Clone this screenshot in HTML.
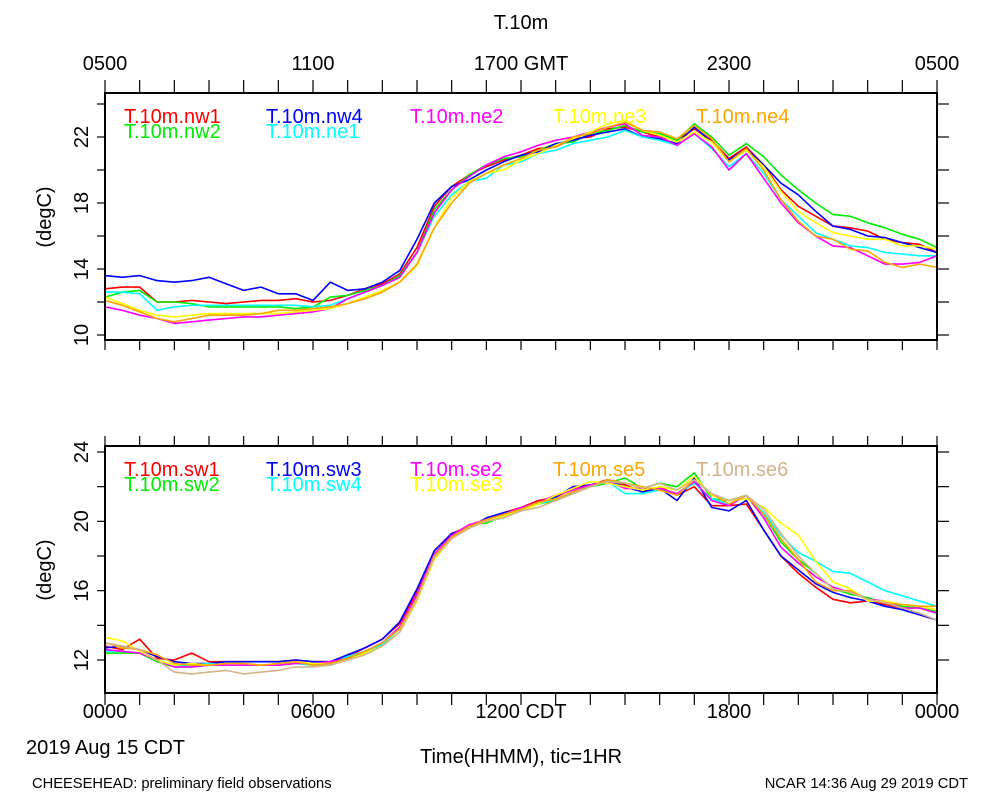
<!DOCTYPE html>
<html><head><meta charset="utf-8"><style>
body{margin:0;background:#fff;}
svg{display:block;font-family:"Liberation Sans",sans-serif;}
</style></head><body>
<svg id="chart" width="1000" height="800" viewBox="0 0 1000 800" xmlns="http://www.w3.org/2000/svg">
<text x="521" y="29" font-size="20" text-anchor="middle">T.10m</text>
<g font-size="20" text-anchor="middle">
<text x="105" y="70">0500</text><text x="313" y="70">1100</text><text x="521" y="70">1700 GMT</text><text x="729" y="70">2300</text><text x="937" y="70">0500</text>
</g>
<g font-size="20" text-anchor="middle">
<text x="105" y="718">0000</text><text x="313" y="718">0600</text><text x="521" y="718">1200 CDT</text><text x="729" y="718">1800</text><text x="937" y="718">0000</text>
</g>
<text x="26" y="754" font-size="20">2019 Aug 15 CDT</text>
<text x="521" y="763" font-size="20" text-anchor="middle">Time(HHMM), tic=1HR</text>
<text x="32" y="788" font-size="14.7">CHEESEHEAD: preliminary field observations</text>
<text x="968" y="788" font-size="14.7" text-anchor="end">NCAR 14:36 Aug 29 2019 CDT</text>
<text x="0" y="0" font-size="20" text-anchor="middle" transform="translate(51,217) rotate(-90)">(degC)</text>
<text x="0" y="0" font-size="20" text-anchor="middle" transform="translate(51,570) rotate(-90)">(degC)</text>
</svg>
<script>
const hours = [];
for (let i = 0; i <= 48; i++) hours.push(i * 0.5);
const topNames = ["T.10m.nw1","T.10m.nw2","T.10m.nw4","T.10m.ne1","T.10m.ne2","T.10m.ne3","T.10m.ne4"];
const topColors = ["#ff0000","#00ee00","#0000ff","#00ffff","#ff00ff","#ffff00","#ffa500"];
const topNw1 = [12.8,12.9,12.9,12.0,12.0,12.1,12.0,11.9, 12.0,12.1,12.1,12.2,12.0,12.1,12.4,12.8, 13.1,13.7,15.3,17.8,19.0,19.7,20.2,20.6, 20.9,21.3,21.4,21.9,22.0,22.5,22.6,22.3, 22.0,21.8,22.5,21.8,20.7,21.4,20.3,18.8, 17.8,17.2,16.6,16.5,16.3,15.8,15.6,15.5, 15.0];
const topNw2 = [12.3,12.6,12.7,12.0,12.0,11.9,11.7,11.7, 11.7,11.7,11.7,11.6,11.7,12.3,12.4,12.7, 13.0,13.6,15.0,17.6,18.8,19.7,20.3,20.7, 20.8,21.2,21.6,21.7,22.2,22.4,22.7,22.3, 22.2,21.8,22.8,22.0,20.9,21.6,20.8,19.7, 18.8,18.0,17.3,17.2,16.8,16.5,16.1,15.8, 15.3];
const topNw4 = [13.6,13.5,13.6,13.3,13.2,13.3,13.5,13.1, 12.7,12.9,12.5,12.5,12.1,13.2,12.7,12.8, 13.2,13.9,15.8,18.0,19.0,19.4,20.0,20.5, 20.9,21.1,21.6,21.8,22.1,22.3,22.5,22.0, 21.9,21.6,22.6,21.7,20.6,21.3,20.3,19.2, 18.5,17.5,16.6,16.4,16.0,15.9,15.6,15.3, 15.0];
const topNe1 = [12.6,12.6,12.5,11.5,11.7,11.8,11.8,11.8, 11.8,11.8,11.8,11.8,11.7,11.8,12.2,12.6, 13.0,13.5,15.0,17.2,18.5,19.3,19.5,20.3, 20.5,21.0,21.2,21.6,21.8,22.0,22.4,22.0, 21.8,21.5,22.2,21.3,20.2,21.0,19.8,18.2, 17.2,16.2,15.8,15.4,15.3,15.0,14.9,14.8, 14.8];
const topNe2 = [11.7,11.5,11.2,11.0,10.7,10.8,10.9,11.0, 11.1,11.1,11.2,11.3,11.4,11.6,12.2,12.6, 13.0,13.5,15.0,17.4,18.8,19.6,20.3,20.8, 21.1,21.5,21.8,22.0,22.3,22.6,22.8,22.1, 22.0,21.5,22.2,21.4,20.0,21.0,19.5,18.0, 16.8,16.0,15.4,15.3,14.8,14.3,14.3,14.4, 14.8];
const topNe3 = [12.3,11.9,11.5,11.2,11.1,11.2,11.3,11.3, 11.3,11.3,11.3,11.4,11.5,11.6,11.9,12.3, 12.7,13.2,14.2,16.5,18.3,19.3,19.8,20.0, 20.6,21.0,21.5,21.9,22.3,22.8,23.0,22.4, 22.1,21.7,22.3,21.7,20.5,21.2,20.2,18.7, 17.5,16.8,16.2,16.0,15.8,15.8,15.4,15.4, 15.2];
const topNe4 = [12.1,11.8,11.4,11.0,10.8,11.0,11.2,11.2, 11.2,11.3,11.5,11.5,11.6,11.7,11.9,12.2, 12.6,13.2,14.3,16.5,18.0,19.2,19.8,20.3, 20.7,21.2,21.4,22.0,22.2,22.6,22.9,22.4, 22.3,21.9,22.7,21.9,20.5,21.3,20.0,18.2, 16.9,16.0,15.8,15.2,15.1,14.4,14.1,14.3, 14.1];

const botNames = ["T.10m.sw1","T.10m.sw2","T.10m.sw3","T.10m.sw4","T.10m.se2","T.10m.se3","T.10m.se5","T.10m.se6"];
const botColors = ["#ff0000","#00ee00","#0000ff","#00ffff","#ff00ff","#ffff00","#ffa500","#d2b48c"];
const botSw1 = [12.8,12.6,13.2,12.1,12.0,12.4,11.9,11.9, 11.9,11.9,11.9,12.0,11.9,11.9,12.2,12.7, 13.2,14.1,16.0,18.3,19.3,19.7,20.1,20.5, 20.8,21.2,21.4,21.9,22.1,22.4,22.1,21.7, 22.0,21.5,22.0,20.9,20.9,21.0,19.5,18.0, 17.0,16.2,15.5,15.3,15.4,15.2,15.0,15.0, 14.7];
const botSw2 = [12.4,12.4,12.4,11.9,11.6,11.6,11.7,11.7, 11.7,11.7,11.7,11.8,11.7,11.8,12.1,12.4, 12.9,13.8,15.7,18.0,19.1,19.8,19.9,20.3, 20.6,21.0,21.2,21.6,22.0,22.2,22.5,21.9, 22.2,22.0,22.8,21.3,21.2,21.5,20.4,18.8, 17.8,17.0,16.1,15.8,15.6,15.3,15.1,15.0, 14.8];
const botSw3 = [12.7,12.8,12.6,12.2,11.9,11.8,11.8,11.9, 11.9,11.9,11.9,12.0,11.9,11.9,12.3,12.7, 13.2,14.2,16.1,18.3,19.3,19.6,20.2,20.5, 20.7,21.0,21.4,22.0,22.1,22.3,22.0,21.7, 21.9,21.2,22.5,20.8,20.6,21.2,19.5,18.0, 17.2,16.4,15.9,15.6,15.4,15.1,14.9,14.6, 14.3];
const botSw4 = [12.5,12.5,12.4,12.0,11.7,11.7,11.8,11.7, 11.7,11.7,11.8,11.8,11.7,11.8,12.2,12.5, 12.9,13.8,15.8,18.1,19.1,19.7,20.0,20.2, 20.7,21.0,21.3,21.7,22.1,22.3,21.6,21.6, 21.8,21.6,22.2,21.3,21.0,21.5,20.5,19.2, 18.2,17.7,17.1,17.0,16.5,16.0,15.7,15.4, 15.1];
const botSe2 = [12.6,12.5,12.4,12.0,11.6,11.6,11.7,11.7, 11.7,11.7,11.7,11.8,11.8,11.9,12.1,12.5, 13.0,13.9,15.8,18.1,19.2,19.8,20.1,20.4, 20.8,21.1,21.5,21.8,22.1,22.3,21.9,21.9, 21.9,21.6,22.3,21.2,20.9,21.5,20.2,18.5, 17.6,16.8,16.2,15.9,15.5,15.4,15.0,15.0, 14.7];
const botSe3 = [13.3,13.1,12.5,12.0,11.7,11.8,11.7,11.8, 11.8,11.7,11.8,11.9,11.8,11.8,12.0,12.4, 12.8,13.6,15.4,17.8,19.0,19.7,20.0,20.3, 20.6,21.0,21.5,21.9,22.3,22.2,22.0,21.8, 22.0,21.8,22.6,21.5,21.2,21.3,20.8,19.9, 19.2,17.7,16.5,16.1,15.4,15.4,15.2,15.1, 14.9];
const botSe5 = [13.0,12.7,12.6,12.3,11.8,11.7,11.7,11.8, 11.8,11.7,11.8,11.9,11.7,11.8,12.1,12.5, 13.0,13.8,15.6,18.0,19.1,19.7,20.1,20.4, 20.7,21.1,21.3,21.7,22.0,22.4,22.2,22.0, 21.8,21.5,22.4,21.6,21.0,21.5,20.4,19.0, 17.8,16.5,16.0,16.0,15.5,15.3,15.2,15.1, 15.1];
const botSe6 = [13.0,12.8,12.6,12.0,11.3,11.2,11.3,11.4, 11.2,11.3,11.4,11.6,11.6,11.7,12.0,12.3, 12.8,13.6,15.5,17.9,19.0,19.6,20.0,20.2, 20.6,20.8,21.2,21.6,22.0,22.3,22.2,21.9, 22.2,21.8,22.4,21.6,21.2,21.5,20.7,19.3, 18.0,17.0,16.1,15.9,15.5,15.3,15.0,14.7, 14.3];

const topMajorTicks = [10,14,18,22];
const topMinorTicks = [12,16,20,24];
const botMajorTicks = [12,16,20,24];
const botMinorTicks = [14,18,22];

const NS = "http://www.w3.org/2000/svg";
const svg = document.getElementById('chart');
const X0 = 105, X1 = 937;
function xScale(h){ return X0 + (X1 - X0) * h / 24; }
function mk(tag, attrs, parent){ const e = document.createElementNS(NS, tag); for (const k in attrs) e.setAttribute(k, attrs[k]); (parent||svg).appendChild(e); return e; }

function panel(opts){
  const {top, bottom, vA, yA, vB, yB, major, minor, names, colors, series, tickUp, tickDown, prefix} = opts;
  const yScale = v => yA + (v - vA) * (yB - yA) / (vB - vA);
  const g = mk('g', {});
  
  
  series.forEach((s, i) => {
    let d = '';
    s.forEach((v, j) => { d += (j ? 'L' : 'M') + xScale(hours[j]).toFixed(1) + ' ' + yScale(v).toFixed(1); });
    const p = mk('path', {d: d, fill: 'none', stroke: colors[i], 'stroke-width': 1.6, 'stroke-linejoin': 'round'}, g);
    
    
  });
  const fr = mk('rect', {x: X0, y: top, width: X1 - X0, height: bottom - top, fill: 'none', stroke: '#000', 'stroke-width': 2}, g);
  
  
  for (let h = 0; h <= 24; h++) {
    const x = xScale(h);
    mk('line', {x1: x, x2: x, y1: top, y2: top - tickUp, stroke: '#000', 'stroke-width': 1.2}, g);
    mk('line', {x1: x, x2: x, y1: bottom, y2: bottom + tickDown, stroke: '#000', 'stroke-width': 1.2}, g);
  }
  major.concat(minor).forEach(v => {
    const y = yScale(v);
    mk('line', {x1: X0 - 8, x2: X0, y1: y, y2: y, stroke: '#000', 'stroke-width': 1.2}, g);
    mk('line', {x1: X1, x2: X1 + 12, y1: y, y2: y, stroke: '#000', 'stroke-width': 1.2}, g);
  });
  major.forEach(v => {
    const y = yScale(v);
    const t = mk('text', {x: 0, y: 0, 'font-size': 20, 'text-anchor': 'middle', transform: 'translate(88,' + y + ') rotate(-90)'}, g);
    t.textContent = v;
    
    
  });
  const colsX = [124, 266, 410, 553, 696];
  const order = opts.legendOrder;
  order.forEach((pos, i) => {
    const t = mk('text', {x: colsX[pos[0]], y: top + 30 + pos[1] * 15, 'font-size': 20, fill: colors[i]}, g);
    t.textContent = names[i];
    
    
  });
}

panel({top: 93, bottom: 340, vA: 10, yA: 335, vB: 22, yB: 137, major: topMajorTicks, minor: topMinorTicks,
  names: topNames, colors: topColors, series: [topNw1, topNw2, topNw4, topNe1, topNe2, topNe3, topNe4],
  tickUp: 13, tickDown: 10, prefix: 'top',
  legendOrder: [[0,0],[0,1],[1,0],[1,1],[2,0],[3,0],[4,0]]});
panel({top: 446, bottom: 693, vA: 12, yA: 660, vB: 24, yB: 452, major: botMajorTicks, minor: botMinorTicks,
  names: botNames, colors: botColors, series: [botSw1, botSw2, botSw3, botSw4, botSe2, botSe3, botSe5, botSe6],
  tickUp: 10, tickDown: 12, prefix: 'bottom',
  legendOrder: [[0,0],[0,1],[1,0],[1,1],[2,0],[2,1],[3,0],[4,0]]});
</script>
</body></html>
